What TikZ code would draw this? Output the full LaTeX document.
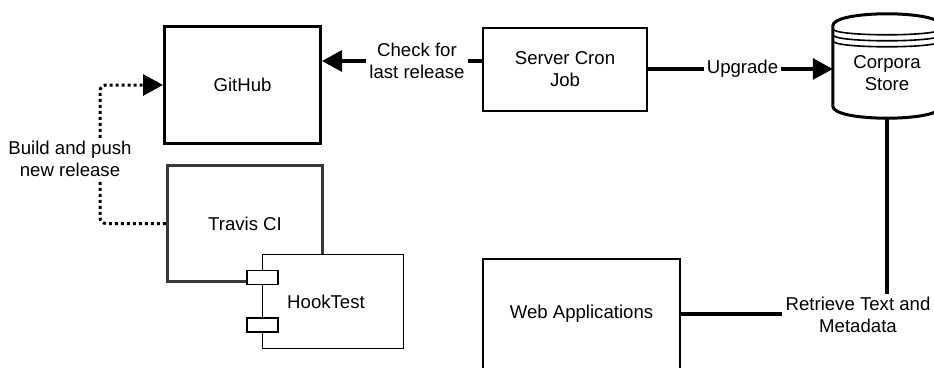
\documentclass[tikz,border=0pt]{standalone}
\usepackage{fontspec}
\setmainfont{Liberation Sans}
\usetikzlibrary{arrows.meta, positioning}
\definecolor{travisgray}{HTML}{383838}

\begin{document}
\begin{tikzpicture}[x=1pt, y=-1pt,
        font=\fontsize{18.6}{22}\selectfont,
        box/.style={draw, rectangle, fill=white, inner sep=0pt, align=center},
        txt/.style={inner sep=3pt, align=center},
        flow/.style={line width=3.2pt},
        tip/.style={-{Triangle[length=20pt, width=21pt]}},
        release/.style={line width=3pt, dash pattern=on 3pt off 3pt, rounded corners=6pt}]
        \useasboundingbox (0,0) rectangle (934,367);
        \clip (0,0) rectangle (934,367);
        \node[box, line width=3pt, minimum width=156pt, minimum height=117pt] (github) at (242.5,85) {GitHub};
        \node[box, draw=travisgray, line width=2.7pt, minimum width=155.5pt, minimum height=116pt] (travis) at (245,223.5) {Travis CI};
        \node[box, line width=1.3pt, minimum width=141pt, minimum height=94pt] (hooktest) at (333,301.5) {};
        \node[txt] (hooktestname) at ([xshift=-7pt]hooktest.center) {HookTest};
        \node[box, line width=1.3pt, minimum width=31pt, minimum height=14pt] (porta) at (262.5,277.5) {};
        \node[box, line width=1.3pt, minimum width=31pt, minimum height=14pt] (portb) at (262.5,325) {};
        \node[box, line width=1.6pt, minimum width=164.5pt, minimum height=83.5pt] (cronjob) at (565,69.5) {Server Cron\\Job};
        \node[box, line width=1.6pt, minimum width=197.5pt, minimum height=110.5pt] (webapps) at (581.5,314) {Web Applications};
        \node[inner sep=0pt, minimum width=108pt, minimum height=106pt] (store) at (887,66) {};
        \draw[line width=3pt] ([yshift=-13pt]store.north west) .. controls ([yshift=3pt]store.north west) and ([yshift=3pt]store.north east) .. ([yshift=-13pt]store.north east)
            -- ([yshift=13pt]store.south east) .. controls ([yshift=-3pt]store.south east) and ([yshift=-3pt]store.south west) .. ([yshift=13pt]store.south west) -- cycle;
        \draw[line width=1.6pt] ([yshift=-16pt]store.north west) .. controls ([yshift=-24pt]store.north west) and ([yshift=-24pt]store.north east) .. ([yshift=-16pt]store.north east);
        \draw[line width=1.6pt] ([yshift=-22pt]store.north west) .. controls ([yshift=-30pt]store.north west) and ([yshift=-30pt]store.north east) .. ([yshift=-22pt]store.north east);
        \draw[line width=1.6pt] ([yshift=-28pt]store.north west) .. controls ([yshift=-36pt]store.north west) and ([yshift=-36pt]store.north east) .. ([yshift=-28pt]store.north east);
        \node[txt] (storename) at ([yshift=-7pt]store.center) {Corpora\\Store};
        \node[txt] (checklast) at (417,61) {Check for\\last release};
        \node[txt] (upgrade) at (742.5,69) {Upgrade};
        \node[txt] (buildpush) at (70,159) {Build and push\\new release};
        \node[txt] (retrieve) at (858,315) {Retrieve Text and\\Metadata};
        \coordinate (bendx) at (100,159);
        \draw[flow] (cronjob.west |- checklast) -- (checklast.east);
        \draw[flow, tip] (checklast.west) -- (github.east |- checklast);
        \draw[flow] (cronjob.east |- upgrade) -- (upgrade.west);
        \draw[flow, tip] (upgrade.east) -- (store.west |- upgrade);
        \draw[release] (travis.west) -| (bendx |- buildpush.south);
        \draw[release, tip] (bendx |- buildpush.north) |- (github.west);
        \draw[flow] (store.south) -- (store.south |- retrieve.north);
        \draw[flow] (webapps.east) -- (retrieve.west |- webapps.east);
    \end{tikzpicture}
\end{document}
